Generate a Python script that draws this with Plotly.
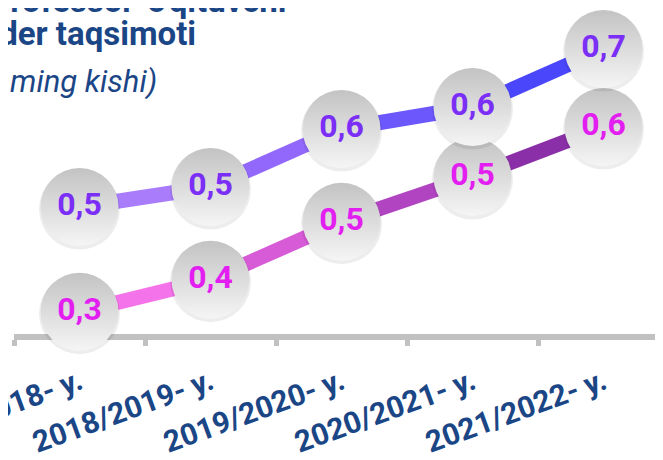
import plotly.graph_objects as go

# ---- data ----
categories = ["2017/2018- y.", "2018/2019- y.", "2019/2020- y.", "2020/2021- y.", "2021/2022- y."]
series_upper = [0.485, 0.515, 0.602, 0.635, 0.722]
series_lower = [0.328, 0.376, 0.463, 0.530, 0.605]

title_line1 = "Professor-o'qituvchi"
title_line2 = "gender taqsimoti"
subtitle = "(2017–2022-yillar, ming kishi)"

# ---- styles ----
upper_seg_colors = ["#a87cfb", "#9168fb", "#6c57fc", "#4a46fb"]
lower_seg_colors = ["#f472ea", "#d75ad6", "#b145c1", "#8b2fa8"]
upper_text_color = "#7b2ef6"
lower_text_color = "#e21ff0"
navy = "#1b4686"

fig = go.Figure()

# gradient line segments
for vals, cols in ((series_upper, upper_seg_colors), (series_lower, lower_seg_colors)):
    for i in range(len(categories) - 1):
        fig.add_trace(go.Scatter(
            x=[categories[i], categories[i + 1]], y=[vals[i], vals[i + 1]],
            mode="lines", line=dict(color=cols[i], width=15),
            hoverinfo="skip", cliponaxis=False))

# circles with value labels (lower first, upper on top)
for vals, tc in ((series_lower, lower_text_color), (series_upper, upper_text_color)):
    fig.add_trace(go.Scatter(
        x=categories, y=[v - 0.003 for v in vals], mode="markers",
        marker=dict(size=81, color="rgba(0,0,0,0.07)", line=dict(width=0)),
        hoverinfo="skip", cliponaxis=False))
    fig.add_trace(go.Scatter(
        x=categories, y=vals, mode="markers+text",
        marker=dict(size=78, color="#c3c3c3",
                    gradient=dict(type="vertical", color="#f5f5f5"),
                    line=dict(width=0)),
        texttemplate="%{y:.1f}", textposition="middle center",
        textfont=dict(family="Roboto", size=32, color=tc, weight=700),
        cliponaxis=False))

PLOT_L, PLOT_W, PLOT_H = 6.0, 657.0, 326.0
def py(p):
    return (PLOT_H - p) / PLOT_H
def px(p):
    return (p - PLOT_L) / PLOT_W

ann_common = dict(xref="paper", yref="paper", showarrow=False, xanchor="right",
                  yanchor="middle")
fig.add_annotation(text=title_line1, x=px(281), y=py(-7), **ann_common,
                   font=dict(family="Roboto", size=33, color=navy, weight=700))
fig.add_annotation(text=title_line2, x=px(190), y=py(26), **ann_common,
                   font=dict(family="Roboto", size=33, color=navy, weight=700))
fig.add_annotation(text=subtitle, x=px(151), y=py(73), **ann_common,
                   font=dict(family="Roboto", size=31, color=navy, style="italic"))

fig.update_layout(
    width=663, height=460,
    margin=dict(l=6, r=0, t=0, b=134, autoexpand=False),
    paper_bgcolor="white", plot_bgcolor="white",
    showlegend=False, separators=", ",
    xaxis=dict(type="category", categoryorder="array", categoryarray=categories,
               range=[-0.5, 4.515], tickson="boundaries", automargin=False,
               showline=True, linewidth=6, linecolor="#c1c1c1",
               ticks="outside", ticklen=6, tickwidth=5, tickcolor="#c1c1c1",
               showgrid=False, zeroline=False, tickangle=-20, ticklabelstandoff=13,
               tickfont=dict(family="Roboto", size=30, color=navy, weight=700),
               layer="below traces"),
    yaxis=dict(visible=False, range=[0.2945, 0.7835], automargin=False),
)

fig.write_html("out.html")
